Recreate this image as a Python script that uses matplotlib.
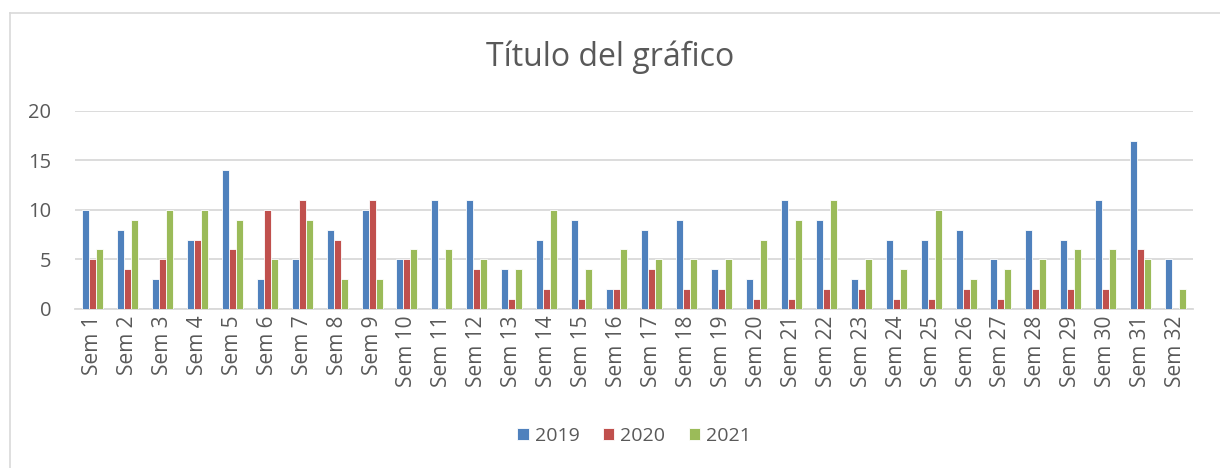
import numpy as np
import matplotlib
matplotlib.use("Agg")
import matplotlib.pyplot as plt
from matplotlib.lines import Line2D

semanas = ["Sem " + str(i) for i in range(1, 33)]
v2019 = [10, 8, 3, 7, 14, 3, 5, 8, 10, 5, 11, 11, 4, 7, 9, 2, 8, 9, 4, 3, 11, 9, 3, 7, 7, 8, 5, 8, 7, 11, 17, 5]
v2020 = [5, 4, 5, 7, 6, 10, 11, 7, 11, 5, 0, 4, 1, 2, 1, 2, 4, 2, 2, 1, 1, 2, 2, 1, 1, 2, 1, 2, 2, 2, 6, 0]
v2021 = [6, 9, 10, 10, 9, 5, 9, 3, 3, 6, 6, 5, 4, 10, 4, 6, 5, 5, 5, 7, 9, 11, 5, 4, 10, 3, 4, 5, 6, 6, 5, 2]
series = [("2019", v2019, "#4F81BD"), ("2020", v2020, "#C0504D"), ("2021", v2021, "#9BBB59")]

plt.rcParams['font.family'] = ['Open Sans', 'DejaVu Sans']
gris = "#595959"

fig = plt.figure(figsize=(12.2, 4.68), dpi=100)
ax = fig.add_axes([0.0615, 0.340, 0.9165, 0.423])

x = np.arange(len(semanas))
w = 0.2
for k, (nom, vals, col) in enumerate(series):
    ax.bar(x + (k - 1) * w, vals, w, color=col, edgecolor="white", linewidth=0.6, label=nom, zorder=3)

ax.set_xlim(-0.5, len(semanas) - 0.5)
ax.set_ylim(0, 20)
ax.set_yticks([0, 5, 10, 15, 20])
ax.yaxis.grid(True, color="#D9D9D9", linewidth=1.3, zorder=0)
for s in ["top", "right", "left"]:
    ax.spines[s].set_visible(False)
ax.spines["bottom"].set_color("#D9D9D9")
ax.spines["bottom"].set_linewidth(1.3)
ax.tick_params(axis="both", length=0, colors=gris)
ax.tick_params(axis="y", pad=17, labelsize=14.5)
ax.tick_params(axis="x", pad=5, labelsize=15)
ax.set_xticks(x)
ax.set_xticklabels(semanas, rotation=90)

fig.text(0.5, 0.878, "Título del gráfico", ha="center", va="center", fontsize=23, color=gris)

ax.legend(loc="center", bbox_to_anchor=(0.5, -0.64), ncol=3, frameon=False,
          fontsize=14, labelcolor=gris, handlelength=0.6, handleheight=0.6,
          handletextpad=0.3, columnspacing=1.2)

# borde del gráfico
fig.add_artist(Line2D([0.0085, 0.0085], [0, 0.972], color="#D9D9D9", linewidth=1.2))
fig.add_artist(Line2D([0.0085, 1], [0.972, 0.972], color="#D9D9D9", linewidth=1.2))

fig.savefig("out.png", dpi=100)
